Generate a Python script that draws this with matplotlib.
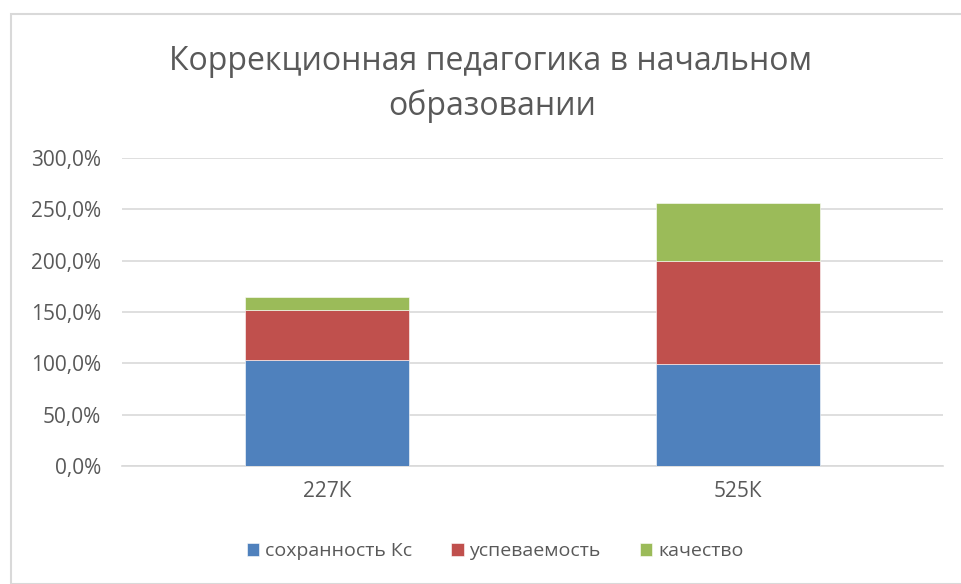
import matplotlib.pyplot as plt
from matplotlib.patches import Rectangle
from matplotlib.ticker import FuncFormatter, MultipleLocator
import numpy as np

plt.rcParams['font.family'] = ['Open Sans', 'DejaVu Sans']

# data (percent)
categories = ['227К', '525К']
series_names = ['сохранность Кс', 'успеваемость', 'качество']
sohrannost = [103.6, 99.0]
uspevaemost = [48.4, 101.0]
kachestvo = [12.5, 56.0]
colors = ['#4F81BD', '#C0504D', '#9BBB59']
text_col = '#595959'

fig = plt.figure(figsize=(9.62, 5.84), dpi=100)
# outer chart border like in Excel
fig.patches.append(Rectangle((11/962, 0), 1.0, 1 - 14/584, transform=fig.transFigure,
                             fill=False, edgecolor='#D9D9D9', linewidth=1.5))

ax = fig.add_axes([122/962, 118/584, 821/962, 308/584])
x = np.arange(len(categories))
bottom = np.zeros(len(categories))
for vals, name, c in zip([sohrannost, uspevaemost, kachestvo], series_names, colors):
    ax.bar(x, vals, width=0.4, bottom=bottom, color=c, label=name,
           edgecolor='white', linewidth=0.4, zorder=3)
    bottom += np.array(vals)

ax.set_xlim(-0.5, 1.5)
ax.set_ylim(0, 300)
ax.yaxis.set_major_locator(MultipleLocator(50))
ax.yaxis.set_major_formatter(FuncFormatter(lambda v, p: f'{v:.1f}%'.replace('.', ',')))
ax.set_xticks(x)
ax.set_xticklabels(categories)
ax.grid(axis='y', color='#D9D9D9', linewidth=1.2, zorder=0)
for s in ['top', 'right', 'left']:
    ax.spines[s].set_visible(False)
ax.spines['bottom'].set_color('#D9D9D9')
ax.spines['bottom'].set_linewidth(1.2)
ax.tick_params(axis='y', length=0, pad=15, labelsize=15, labelcolor=text_col)
ax.tick_params(axis='x', length=0, pad=11, labelsize=15, labelcolor=text_col)

fig.text(491/962, 1 - 61/584, 'Коррекционная педагогика в начальном', ha='center', va='center',
         fontsize=23, color=text_col)
fig.text(492/962, 1 - 106/584, 'образовании', ha='center', va='center',
         fontsize=23, color=text_col)

fig.legend(loc='center', bbox_to_anchor=(495/962, 1 - 551/584), ncol=3, frameon=False,
           fontsize=14, labelcolor=text_col, handlelength=0.65, handleheight=0.65,
           handletextpad=0.3, columnspacing=2.0)

fig.savefig('out.png', dpi=100)
